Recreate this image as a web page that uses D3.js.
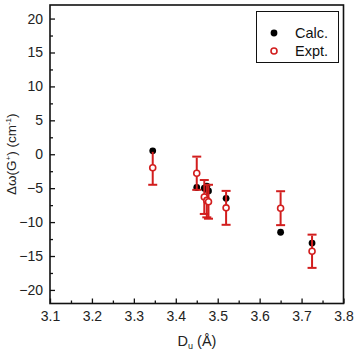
<!DOCTYPE html>
<html><head><meta charset="utf-8">
<script src="https://cdn.jsdelivr.net/npm/d3@7"></script>
<style>body{margin:0;background:#fff}svg{display:block}text{font-family:"Liberation Sans",Arial,sans-serif}</style>
</head><body><svg id="c" width="356" height="356"></svg>
<script>
const xValues    = [3.345, 3.45, 3.468, 3.474, 3.478, 3.52, 3.65, 3.725];
const calcValues = [0.5, -4.9, -5.0, -4.7, -5.4, -6.5, -11.5, -13.1];
const exptValues = [-2.0, -2.8, -6.3, -6.8, -7.0, -7.9, -7.95, -14.3];
const exptErrors = [2.5, 2.45, 2.5, 2.5, 2.5, 2.5, 2.5, 2.45];
const xTicks = [3.1, 3.2, 3.3, 3.4, 3.5, 3.6, 3.7, 3.8];
const yTicks = [20, 15, 10, 5, 0, -5, -10, -15, -20];
const legendLabels = ["Calc.", "Expt."];

const svg = d3.select("#c");
const L = 50, R = 343.5, T = 5, B = 303.5;
const x = d3.scaleLinear().domain([3.1, 3.8]).range([L, R]);
const y = d3.scaleLinear().domain([-22, 22]).range([B, T]);
const red = "#d21e1e";

const xMinor = d3.range(3.15, 3.8, 0.1);
const yMinor = d3.range(-17.5, 20, 5);
const gx = svg.append("g").attr("transform", `translate(0,${B})`);
gx.call(d3.axisBottom(x).tickValues(xTicks).tickFormat(d3.format(".1f")).tickSizeInner(-5).tickSizeOuter(0).tickPadding(8));
gx.append("g").call(d3.axisBottom(x).tickValues(xMinor).tickFormat("").tickSizeInner(-3).tickSizeOuter(0)).select(".domain").remove();
const gy = svg.append("g").attr("transform", `translate(${L},0)`);
gy.call(d3.axisLeft(y).tickValues(yTicks).tickSizeInner(-5).tickSizeOuter(0).tickPadding(7));
gy.append("g").call(d3.axisLeft(y).tickValues(yMinor).tickFormat("").tickSizeInner(-3).tickSizeOuter(0)).select(".domain").remove();
svg.selectAll(".tick line").attr("stroke", "#111").attr("stroke-width", 1.3);
svg.selectAll(".tick text").attr("font-size", 14).attr("fill", "#222").attr("font-family", "Liberation Sans, Arial, sans-serif");
svg.selectAll(".domain").remove();

svg.append("rect").attr("x", L).attr("y", T).attr("width", R - L).attr("height", B - T)
  .attr("fill", "none").attr("stroke", "#111").attr("stroke-width", 1.6);

const data = xValues.map((d, i) => ({x: d, c: calcValues[i], e: exptValues[i], err: exptErrors[i]}));
// calc points
svg.append("g").selectAll("circle").data(data).join("circle")
  .attr("cx", d => x(d.x)).attr("cy", d => y(d.c)).attr("r", 3.4).attr("fill", "#000");
// error bars
const eb = svg.append("g").attr("stroke", red).attr("stroke-width", 2);
data.forEach(d => {
  eb.append("line").attr("x1", x(d.x)).attr("x2", x(d.x)).attr("y1", y(d.e + d.err) + 1).attr("y2", y(d.e - d.err));
  [d.e - d.err].forEach(v => eb.append("line").attr("x1", x(d.x) - 4.5).attr("x2", x(d.x) + 4.5).attr("y1", y(v)).attr("y2", y(v)));
  if (Math.abs(d.e + d.err - d.c) > 0.6)
    eb.append("line").attr("x1", x(d.x) - 4.5).attr("x2", x(d.x) + 4.5).attr("y1", y(d.e + d.err)).attr("y2", y(d.e + d.err));
});
// expt points
svg.append("g").selectAll("circle").data(data).join("circle")
  .attr("cx", d => x(d.x)).attr("cy", d => y(d.e)).attr("r", 3).attr("fill", "#fff").attr("stroke", red).attr("stroke-width", 1.6);

// legend
const lg = svg.append("g");
lg.append("rect").attr("x", 256.5).attr("y", 11.5).attr("width", 82).attr("height", 51).attr("fill", "#fff").attr("stroke", "#111").attr("stroke-width", 1);
lg.append("circle").attr("cx", 274).attr("cy", 33).attr("r", 3.4).attr("fill", "#000");
lg.append("circle").attr("cx", 274).attr("cy", 51).attr("r", 3).attr("fill", "#fff").attr("stroke", red).attr("stroke-width", 1.6);
lg.selectAll("text").data(legendLabels).join("text")
  .attr("x", 295).attr("y", (d, i) => 38 + i * 18).attr("font-size", 14.5).attr("fill", "#111").text(d => d);

const xt = svg.append("text").attr("x", 197).attr("y", 346).attr("text-anchor", "middle").attr("font-size", 14.5).attr("fill", "#222");
xt.append("tspan").text("D");
xt.append("tspan").attr("font-size", 9).attr("dy", 3).text("u");
xt.append("tspan").attr("dy", -3).text(" (Å)");

const yt = svg.append("text").attr("transform", `translate(16,${(T + B) / 2}) rotate(-90)`).attr("text-anchor", "middle").attr("font-size", 13.5).attr("fill", "#222");
yt.append("tspan").text("Δω(G");
yt.append("tspan").attr("font-size", 8).attr("dy", -5).text("+");
yt.append("tspan").attr("dy", 5).text(") (cm");
yt.append("tspan").attr("font-size", 8).attr("dy", -5).text("-1");
yt.append("tspan").attr("dy", 5).text(")");
</script></body></html>
